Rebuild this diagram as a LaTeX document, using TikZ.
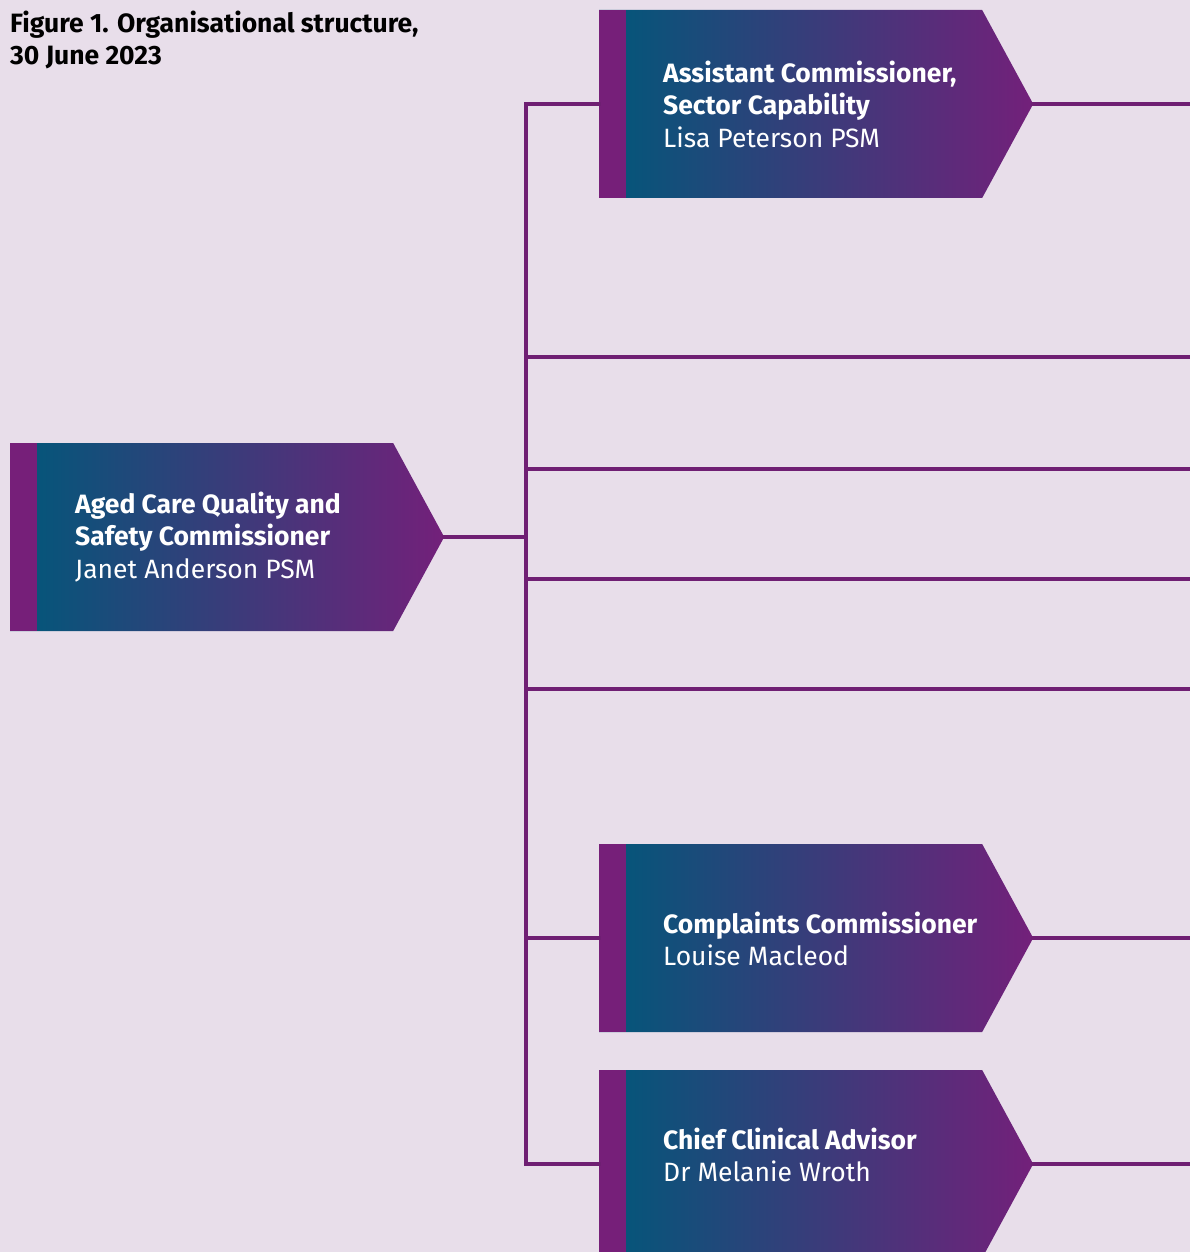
\documentclass[tikz,border=0pt]{standalone}
\usepackage{fontspec}
\setmainfont{Fira Sans}
\usetikzlibrary{shapes.symbols}
\definecolor{pagebg}{HTML}{E8DEEA}
\definecolor{linkpurple}{HTML}{6F1F73}
\definecolor{strippurple}{HTML}{761F79}
\definecolor{boxteal}{HTML}{00587A}
\definecolor{boxpurple}{HTML}{73207A}
\tikzset{
	orgbox/.style={signal, signal to=east, signal pointer angle=123,
		minimum width=434pt, minimum height=188pt, inner sep=0pt,
		left color=boxteal, right color=boxpurple, anchor=west,
		path picture={\fill[strippurple] (path picture bounding box.south west) rectangle ++(27pt,188pt);}},
	orgtext/.style={anchor=west, align=left, inner sep=0pt, text=white,
		font=\fontsize{26.5}{32.5}\selectfont},
	link/.style={draw=linkpurple, line width=4pt, line cap=rect},
}

\begin{document}
\begin{tikzpicture}[x=1pt,y=-1pt]
	\fill[pagebg] (0,0) rectangle (1190,1252);
	\useasboundingbox (0,0) rectangle (1190,1252);
	\clip (0,0) rectangle (1190,1252);
	
	\node[anchor=north west, align=left, inner sep=0pt,
		font=\bfseries\fontsize{26.5}{32}\selectfont] (figTitle) at (10,11)
		{Figure 1. Organisational structure,\\30 June 2023};
	
	% boxes
	\node[orgbox] (chair) at (10,537) {};
	\node[orgbox] (sector) at (599,104) {};
	\node[orgbox] (complaints) at (599,938) {};
	\node[orgbox] (clinical) at (599,1164) {};
	
	\node[orgtext] (chairText) at (75,537)
		{\textbf{Aged Care Quality and}\\\textbf{Safety Commissioner}\\Janet Anderson PSM};
	\node[orgtext] (sectorText) at (663,104)
		{\textbf{Assistant Commissioner,}\\\textbf{Sector Capability}\\Lisa Peterson PSM};
	\node[orgtext] (complaintsText) at (663,939)
		{\textbf{Complaints Commissioner}\\Louise Macleod};
	\node[orgtext] (clinicalText) at (663,1155)
		{\textbf{Chief Clinical Advisor}\\Dr Melanie Wroth};
	
	% connectors
	\coordinate (trunk) at (526,537);
	\coordinate (rightEdge) at (1190,0);
	\coordinate (edgeA) at (1190,357);
	\coordinate (edgeB) at (1190,469);
	\coordinate (edgeC) at (1190,579);
	\coordinate (edgeD) at (1190,689);
	
	\draw[link] (chair.east) -- (trunk);
	\draw[link] (trunk |- sector.west) -- (trunk |- clinical.west);
	\foreach \b in {sector,complaints,clinical}{
		\draw[link] (trunk |- \b.west) -- (\b.west);
		\draw[link] (\b.east) -- (\b.east -| rightEdge);
	}
	\foreach \e in {edgeA,edgeB,edgeC,edgeD}
		\draw[link] (trunk |- \e) -- (\e);
\end{tikzpicture}
\end{document}
